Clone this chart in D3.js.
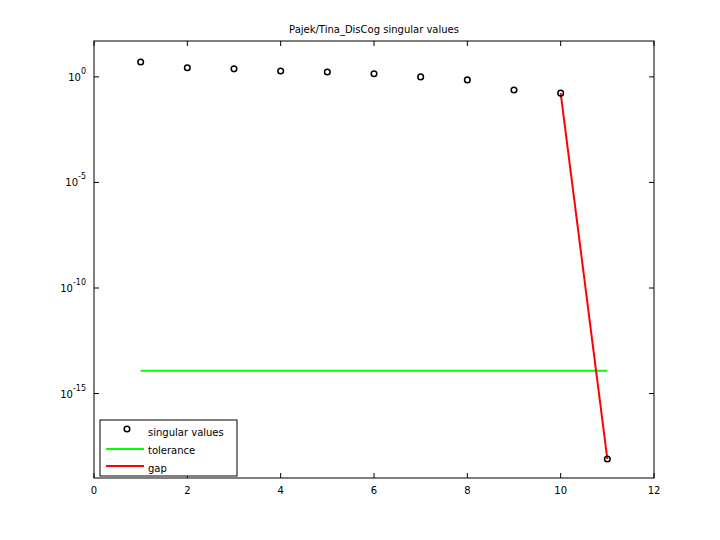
<!DOCTYPE html>
<html><head><script src="https://cdn.jsdelivr.net/npm/d3@7"></script>
<style>body{margin:0;background:#fff}text{font-family:"DejaVu Sans",sans-serif;font-size:10px}</style></head>
<body><svg id="c" width="720" height="540"></svg>
<script>
const idx=[1,2,3,4,5,6,7,8,9,10,11];
const sv=[5.1,2.7,2.4,1.9,1.7,1.4,1.0,0.72,0.24,0.17,7.9e-19];
const tol=1.2e-14;
const tolX=[1,11];
const gapX=[10,11];
const xTicks=[0,2,4,6,8,10,12];
const yTicks=[0,-5,-10,-15];
const svg=d3.select("#c");
const L=94,R=654,T=41,B=478;
const x=d3.scaleLinear().domain([0,12]).range([L,R]);
const y=d3.scaleLog().domain([Math.pow(10,-19),Math.pow(10,1.7)]).range([B,T]);
svg.append("rect").attr("x",L).attr("y",T).attr("width",R-L).attr("height",B-T).attr("fill","#fff").attr("stroke","#000");
xTicks.forEach(t=>{
 svg.append("line").attr("x1",x(t)).attr("x2",x(t)).attr("y1",B).attr("y2",B-5).attr("stroke","#000");
 svg.append("line").attr("x1",x(t)).attr("x2",x(t)).attr("y1",T).attr("y2",T+5).attr("stroke","#000");
 svg.append("text").attr("x",x(t)).attr("y",B+16).attr("text-anchor","middle").text(t);
});
yTicks.forEach(e=>{
 const yy=y(Math.pow(10,e));
 svg.append("line").attr("x1",L).attr("x2",L+5).attr("y1",yy).attr("y2",yy).attr("stroke","#000");
 svg.append("line").attr("x1",R).attr("x2",R-5).attr("y1",yy).attr("y2",yy).attr("stroke","#000");
 const t=svg.append("text").attr("x",L-8).attr("y",yy+4).attr("text-anchor","end");
 t.append("tspan").text("10");
 t.append("tspan").attr("dy",-7).attr("font-size","8px").text(e);
});
svg.append("text").attr("x",(L+R)/2).attr("y",33).attr("text-anchor","middle").text("Pajek/Tina_DisCog singular values");
svg.append("line").attr("x1",x(tolX[0])).attr("x2",x(tolX[1])).attr("y1",y(tol)).attr("y2",y(tol)).attr("stroke","#00ff00").attr("stroke-width",2);
svg.append("path").attr("d",d3.line().x(d=>x(d)).y(d=>y(sv[d-1]))(gapX)).attr("stroke","#ff0000").attr("stroke-width",2).attr("fill","none");
svg.selectAll("circle.p").data(idx).join("circle").attr("cx",d=>x(d)).attr("cy",(d,i)=>y(sv[i])).attr("r",2.8).attr("fill","none").attr("stroke","#000").attr("stroke-width",1.5);
// legend
const lg=svg.append("g");
lg.append("rect").attr("x",100).attr("y",420).attr("width",137).attr("height",56).attr("fill","#fff").attr("stroke","#000");
lg.append("circle").attr("cx",127).attr("cy",429).attr("r",2.8).attr("fill","none").attr("stroke","#000").attr("stroke-width",1.5);
lg.append("text").attr("x",148).attr("y",436).text("singular values");
lg.append("line").attr("x1",106).attr("x2",144).attr("y1",449).attr("y2",449).attr("stroke","#00ff00").attr("stroke-width",2);
lg.append("text").attr("x",148).attr("y",454).text("tolerance");
lg.append("line").attr("x1",106).attr("x2",144).attr("y1",466).attr("y2",466).attr("stroke","#ff0000").attr("stroke-width",2);
lg.append("text").attr("x",148).attr("y",472).text("gap");
</script></body></html>
